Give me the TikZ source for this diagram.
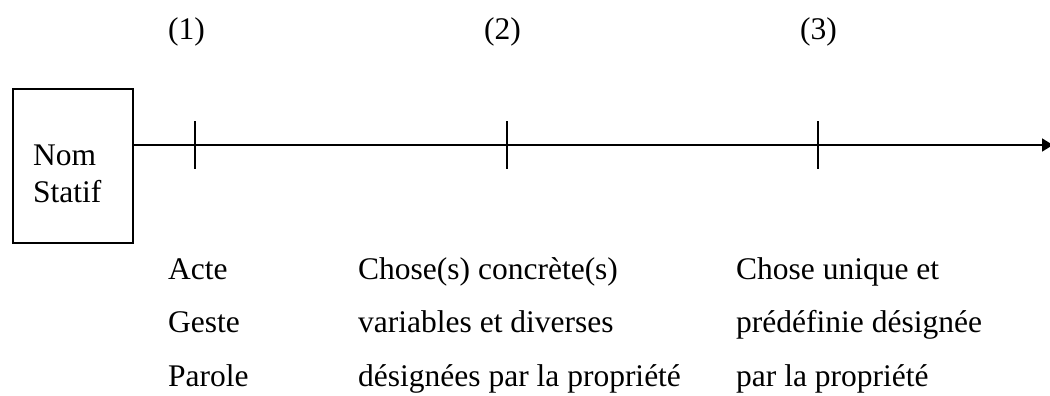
\documentclass[tikz,border=0pt]{standalone}
\usepackage{fontspec}
\setmainfont{Liberation Serif}
\usetikzlibrary{arrows.meta}
\begin{document}
\begin{tikzpicture}[x=1pt,y=-1pt,
  every node/.style={font=\fontsize{31.5}{36}\selectfont, inner sep=0pt},
  lbl/.style={anchor=base west},
  axis/.style={line width=1.8pt, -{Triangle[length=11pt,width=13pt]}},
  tick/.style={line width=1.8pt},
  frame/.style={draw, line width=1.8pt, anchor=north west, minimum width=120pt, minimum height=154pt}]
\useasboundingbox (0,0) rectangle (1050,396);
\node[frame] (box) at (12,88) {};
\node[lbl] (nom) at (33,165) {Nom};
\node[lbl] (statif) at (33,202) {Statif};
\coordinate (end) at (1053,145);
\draw[axis] (box.east |- end) -- (end);
\coordinate (t1) at (195,145);
\coordinate (t2) at (507,145);
\coordinate (t3) at (818,145);
\foreach \t in {t1,t2,t3}{
  \draw[tick] ([yshift=24pt]\t) -- ([yshift=-24pt]\t);
}
\node[lbl] (n1) at (168,40) {(1)};
\node[lbl] (n2) at (484,40) {(2)};
\node[lbl] (n3) at (800,40) {(3)};
\node[lbl] (a1) at (168,279) {Acte};
\node[lbl] (a2) at (168,332) {Geste};
\node[lbl] (a3) at (168,386) {Parole};
\node[lbl] (b1) at (358,279) {Chose(s) concrète(s)};
\node[lbl] (b2) at (358,332) {variables et diverses};
\node[lbl] (b3) at (358,386) {désignées par la propriété};
\node[lbl] (c1) at (736,279) {Chose unique et};
\node[lbl] (c2) at (736,332) {prédéfinie désignée};
\node[lbl] (c3) at (736,386) {par la propriété};
\end{tikzpicture}
\end{document}
